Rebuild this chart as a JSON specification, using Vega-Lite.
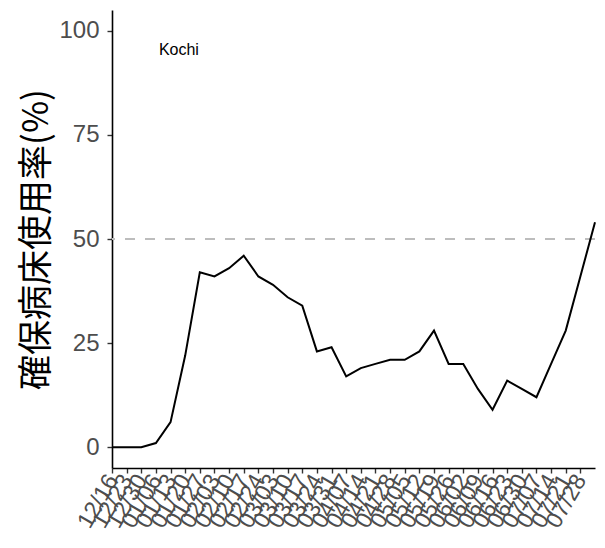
{
  "$schema": "https://vega.github.io/schema/vega-lite/v6.json",
  "autosize": "none",
  "width": 483,
  "height": 458,
  "padding": {"left": 112, "top": 10, "right": 10, "bottom": 80},
  "background": "white",
  "config": {"view": {"stroke": null}},
  "datasets": {
    "series": [
      {"date": "2020-12-16", "rate": 0},
      {"date": "2020-12-23", "rate": 0},
      {"date": "2020-12-30", "rate": 0},
      {"date": "2021-01-06", "rate": 1},
      {"date": "2021-01-13", "rate": 6},
      {"date": "2021-01-20", "rate": 22},
      {"date": "2021-01-27", "rate": 42},
      {"date": "2021-02-03", "rate": 41},
      {"date": "2021-02-10", "rate": 43},
      {"date": "2021-02-17", "rate": 46},
      {"date": "2021-02-24", "rate": 41},
      {"date": "2021-03-03", "rate": 39},
      {"date": "2021-03-10", "rate": 36},
      {"date": "2021-03-17", "rate": 34},
      {"date": "2021-03-24", "rate": 23},
      {"date": "2021-03-31", "rate": 24},
      {"date": "2021-04-07", "rate": 17},
      {"date": "2021-04-14", "rate": 19},
      {"date": "2021-04-21", "rate": 20},
      {"date": "2021-04-28", "rate": 21},
      {"date": "2021-05-05", "rate": 21},
      {"date": "2021-05-12", "rate": 23},
      {"date": "2021-05-19", "rate": 28},
      {"date": "2021-05-26", "rate": 20},
      {"date": "2021-06-02", "rate": 20},
      {"date": "2021-06-09", "rate": 14},
      {"date": "2021-06-16", "rate": 9},
      {"date": "2021-06-23", "rate": 16},
      {"date": "2021-06-30", "rate": 14},
      {"date": "2021-07-07", "rate": 12},
      {"date": "2021-07-14", "rate": 20},
      {"date": "2021-07-21", "rate": 28},
      {"date": "2021-07-28", "rate": 41},
      {"date": "2021-08-04", "rate": 54}
    ],
    "threshold": [{"level": 50}],
    "label": [{"date": "2021-01-17", "rate": 95.5, "name": "Kochi"}]
  },
  "layer": [
    {
      "data": {"name": "threshold"},
      "mark": {"type": "rule", "color": "#bdbdbd", "strokeWidth": 2, "strokeDash": [10, 10]},
      "encoding": {
        "y": {"field": "level", "type": "quantitative"}
      }
    },
    {
      "data": {"name": "series"},
      "mark": {"type": "line", "color": "black", "strokeWidth": 2, "strokeJoin": "miter"},
      "encoding": {
        "x": {
          "field": "date",
          "type": "temporal",
          "scale": {
            "type": "utc",
            "nice": false,
            "domain": [
              {"year": 2020, "month": 12, "date": 16, "utc": true},
              {"year": 2021, "month": 8, "date": 4, "utc": true}
            ]
          },
          "axis": {
            "title": null,
            "format": "%m/%d",
            "grid": false,
            "tickCount": 60,
            "values": [
              {"year": 2020, "month": 12, "date": 16, "utc": true},
              {"year": 2020, "month": 12, "date": 23, "utc": true},
              {"year": 2020, "month": 12, "date": 30, "utc": true},
              {"year": 2021, "month": 1, "date": 6, "utc": true},
              {"year": 2021, "month": 1, "date": 13, "utc": true},
              {"year": 2021, "month": 1, "date": 20, "utc": true},
              {"year": 2021, "month": 1, "date": 27, "utc": true},
              {"year": 2021, "month": 2, "date": 3, "utc": true},
              {"year": 2021, "month": 2, "date": 10, "utc": true},
              {"year": 2021, "month": 2, "date": 17, "utc": true},
              {"year": 2021, "month": 2, "date": 24, "utc": true},
              {"year": 2021, "month": 3, "date": 3, "utc": true},
              {"year": 2021, "month": 3, "date": 10, "utc": true},
              {"year": 2021, "month": 3, "date": 17, "utc": true},
              {"year": 2021, "month": 3, "date": 24, "utc": true},
              {"year": 2021, "month": 3, "date": 31, "utc": true},
              {"year": 2021, "month": 4, "date": 7, "utc": true},
              {"year": 2021, "month": 4, "date": 14, "utc": true},
              {"year": 2021, "month": 4, "date": 21, "utc": true},
              {"year": 2021, "month": 4, "date": 28, "utc": true},
              {"year": 2021, "month": 5, "date": 5, "utc": true},
              {"year": 2021, "month": 5, "date": 12, "utc": true},
              {"year": 2021, "month": 5, "date": 19, "utc": true},
              {"year": 2021, "month": 5, "date": 26, "utc": true},
              {"year": 2021, "month": 6, "date": 2, "utc": true},
              {"year": 2021, "month": 6, "date": 9, "utc": true},
              {"year": 2021, "month": 6, "date": 16, "utc": true},
              {"year": 2021, "month": 6, "date": 23, "utc": true},
              {"year": 2021, "month": 6, "date": 30, "utc": true},
              {"year": 2021, "month": 7, "date": 7, "utc": true},
              {"year": 2021, "month": 7, "date": 14, "utc": true},
              {"year": 2021, "month": 7, "date": 21, "utc": true},
              {"year": 2021, "month": 7, "date": 28, "utc": true}
            ],
            "labelAngle": -60,
            "labelAlign": "right",
            "labelBaseline": "middle",
            "labelFont": "Liberation Sans",
            "labelFontSize": 23,
            "labelColor": "#4d4d4d",
            "labelOverlap": false,
            "labelFlush": false,
            "labelBound": false,
            "labelPadding": 3,
            "domainColor": "black",
            "domainWidth": 1.6,
            "tickColor": "#333333",
            "tickWidth": 1.4,
            "tickSize": 5
          }
        },
        "y": {
          "field": "rate",
          "type": "quantitative",
          "scale": {"domain": [-5, 105], "nice": false, "zero": false},
          "axis": {
            "title": "確保病床使用率(%)",
            "titleFont": "Noto Sans CJK JP",
            "titleFontSize": 35,
            "titleFontWeight": "normal",
            "titleColor": "black",
            "titlePadding": 4,
            "values": [0, 25, 50, 75, 100],
            "grid": false,
            "labelFont": "Liberation Sans",
            "labelFontSize": 24,
            "labelColor": "#4d4d4d",
            "labelPadding": 8,
            "domainColor": "black",
            "domainWidth": 1.6,
            "tickColor": "#333333",
            "tickWidth": 1.4,
            "tickSize": 5
          }
        }
      }
    },
    {
      "data": {"name": "label"},
      "mark": {"type": "text", "font": "Liberation Sans", "fontSize": 16, "color": "black", "align": "center", "baseline": "middle"},
      "encoding": {
        "x": {"field": "date", "type": "temporal"},
        "y": {"field": "rate", "type": "quantitative"},
        "text": {"field": "name", "type": "nominal"}
      }
    }
  ]
}
